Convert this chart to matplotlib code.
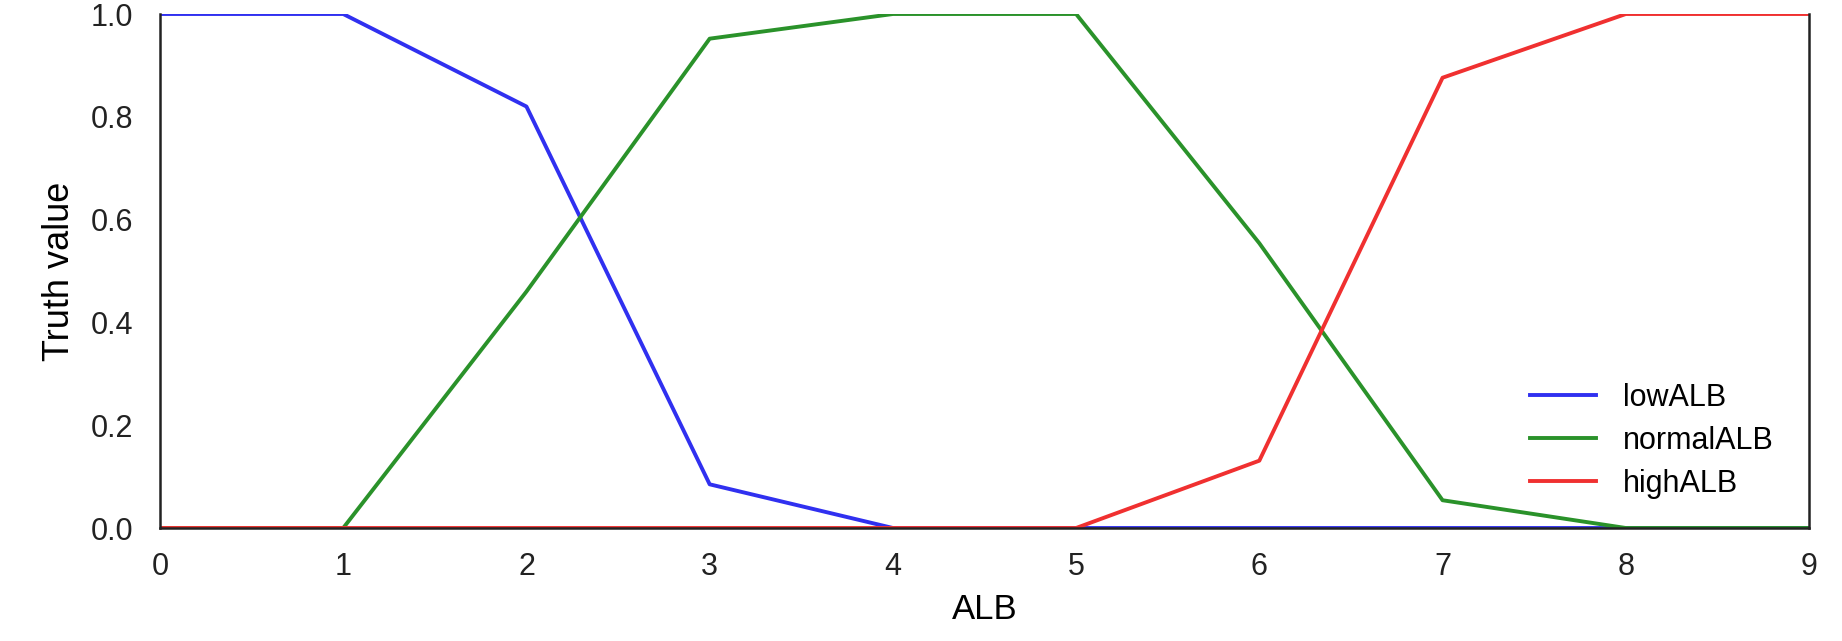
import matplotlib
matplotlib.use("Agg")
from matplotlib import pyplot as plt

alb = [0, 1, 2, 3, 4, 5, 6, 7, 8, 9]
low_alb = [1.0, 1.0, 0.82, 0.085, 0.0, 0.0, 0.0, 0.0, 0.0, 0.0]
normal_alb = [0.0, 0.0, 0.46, 0.952, 1.0, 1.0, 0.554, 0.054, 0.0, 0.0]
high_alb = [0.0, 0.0, 0.0, 0.0, 0.0, 0.0, 0.131, 0.876, 1.0, 1.0]
labels = ["lowALB", "normalALB", "highALB"]
colors = ["#3030f0", "#2a922a", "#f03030"]

plt.rcParams['font.family'] = ['Liberation Sans', 'DejaVu Sans']

fig = plt.figure(figsize=(18.42, 6.41), dpi=100)
ax = fig.add_axes([160 / 1842, (641 - 528) / 641, (1809 - 160) / 1842, (528 - 14) / 641])

for ys, lab, c in zip([low_alb, normal_alb, high_alb], labels, colors):
    ax.plot(alb, ys, color=c, lw=2.8, label=lab)

ax.set_xlim(0, 9)
ax.set_ylim(0, 1)
ax.set_xticks(range(10))
ax.set_yticks([0.0, 0.2, 0.4, 0.6, 0.8, 1.0])
ax.set_yticklabels(["0.0", "0.2", "0.4", "0.6", "0.8", "1.0"])
ax.tick_params(axis='x', length=0, pad=17, labelsize=22, colors='#222222')
ax.tick_params(axis='y', length=0, pad=19, labelsize=22, colors='#222222')

ax.spines['top'].set_visible(False)
for s in ['left', 'right', 'bottom']:
    ax.spines[s].set_color('#222222')
    ax.spines[s].set_linewidth(1.8)

ax.set_xlabel("ALB", fontsize=25, labelpad=8)
ax.set_ylabel("Truth value", fontsize=26, labelpad=10)

ax.legend(loc='upper left', frameon=False, fontsize=22, handlelength=2.17,
          handletextpad=0.87, labelspacing=0.42, borderpad=0, borderaxespad=0,
          bbox_to_anchor=(1530 / 1842, 1 - 383 / 641), bbox_transform=fig.transFigure)

fig.savefig("out.png", dpi=100)
